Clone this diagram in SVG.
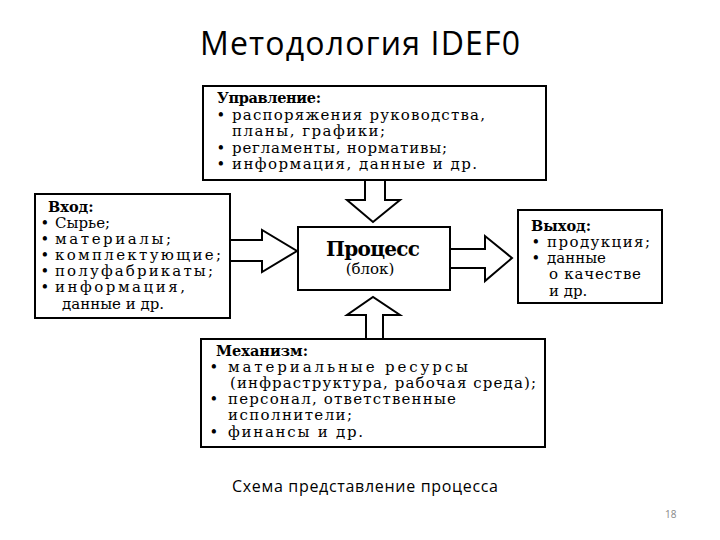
<svg xmlns="http://www.w3.org/2000/svg" width="720" height="540" viewBox="0 0 720 540">
<style>
.box{fill:#fff;stroke:#000;stroke-width:2}
.arr{fill:#fff;stroke:#000;stroke-width:2;stroke-linejoin:miter}
.t{font-family:"DejaVu Serif","Liberation Serif",serif;font-size:15px;fill:#000}
.h{font-family:"DejaVu Serif","Liberation Serif",serif;font-size:14.5px;font-weight:bold;fill:#000}
.b{font-family:"DejaVu Serif","Liberation Serif",serif;font-size:12px;font-weight:bold;fill:#000}
.p{font-family:"DejaVu Serif","Liberation Serif",serif;font-size:20px;font-weight:bold;fill:#000}
.ttl{font-family:"Open Sans","Noto Sans","DejaVu Sans",sans-serif;fill:#000}
</style>
<rect width="720" height="540" fill="#fff"/>
<text class="ttl" x="200" y="55" font-size="32" textLength="320">Методология IDEF0</text>

<g id="connectors">
  <polygon id="arrow-control" class="arr" points="365,180 365,200 347,200 373,222 400,200 385,200 385,180"/>
  <polygon id="arrow-input" class="arr" points="230,240 262,240 262,230 297,251 262,272 262,261 230,261"/>
  <polygon id="arrow-output" class="arr" points="450,249 485,249 485,236 512,258 485,281 485,268 450,268"/>
  <polygon id="arrow-mechanism" class="arr" points="366,339 366,315 347,315 373,297 400,315 383,315 383,339"/>
</g>

<g id="control">
  <rect class="box" x="203" y="86" width="343" height="94"/>
  <text class="h" x="217" y="103" textLength="104">Управление:</text>
  <text class="b" x="217" y="119">•</text>
  <text class="t" x="232" y="120" textLength="253">распоряжения руководства,</text>
  <text class="t" x="232" y="136" textLength="153">планы, графики;</text>
  <text class="b" x="217" y="152">•</text>
  <text class="t" x="232" y="153" textLength="215">регламенты, нормативы;</text>
  <text class="b" x="217" y="168">•</text>
  <text class="t" x="232" y="169" textLength="245">информация, данные и др.</text>
</g>

<g id="input">
  <rect class="box" x="35" y="194" width="195" height="124"/>
  <text class="h" x="48" y="212">Вход:</text>
  <text class="b" x="41" y="227">•</text>
  <text class="t" x="55" y="228">Сырье;</text>
  <text class="b" x="41" y="243">•</text>
  <text class="t" x="55" y="244" textLength="116">материалы;</text>
  <text class="b" x="41" y="259">•</text>
  <text class="t" x="55" y="260" textLength="166">комплектующие;</text>
  <text class="b" x="41" y="275">•</text>
  <text class="t" x="55" y="276" textLength="158">полуфабрикаты;</text>
  <text class="b" x="41" y="291">•</text>
  <text class="t" x="55" y="292" textLength="130">информация,</text>
  <text class="t" x="62" y="309">данные и др.</text>
</g>

<g id="process">
  <rect class="box" x="298" y="227" width="152" height="63"/>
  <text class="p" x="373" y="256" text-anchor="middle" textLength="94">Процесс</text>
  <text class="t" x="370" y="274" text-anchor="middle">(блок)</text>
</g>

<g id="output">
  <rect class="box" x="518" y="210" width="144" height="93"/>
  <text class="h" x="531" y="231">Выход:</text>
  <text class="b" x="532" y="246">•</text>
  <text class="t" x="547" y="247" textLength="103">продукция;</text>
  <text class="b" x="532" y="262">•</text>
  <text class="t" x="547" y="263">данные</text>
  <text class="t" x="549" y="279" textLength="92">о качестве</text>
  <text class="t" x="549" y="296">и др.</text>
</g>

<g id="mechanism">
  <rect class="box" x="201" y="339" width="344" height="108"/>
  <text class="h" x="216" y="356" textLength="92">Механизм:</text>
  <text class="b" x="210" y="371">•</text>
  <text class="t" x="228" y="372" textLength="240">материальные ресурсы</text>
  <text class="t" x="230" y="388" textLength="306">(инфраструктура, рабочая среда);</text>
  <text class="b" x="210" y="403">•</text>
  <text class="t" x="228" y="404" textLength="228">персонал, ответственные</text>
  <text class="t" x="228" y="420" textLength="124">исполнители;</text>
  <text class="b" x="210" y="436">•</text>
  <text class="t" x="228" y="437" textLength="135">финансы и др.</text>
</g>

<text class="ttl" x="232" y="492" font-size="16" textLength="266">Схема представление процесса</text>
<text class="ttl" x="665" y="518" font-size="10" style="fill:#888">18</text>
</svg>
